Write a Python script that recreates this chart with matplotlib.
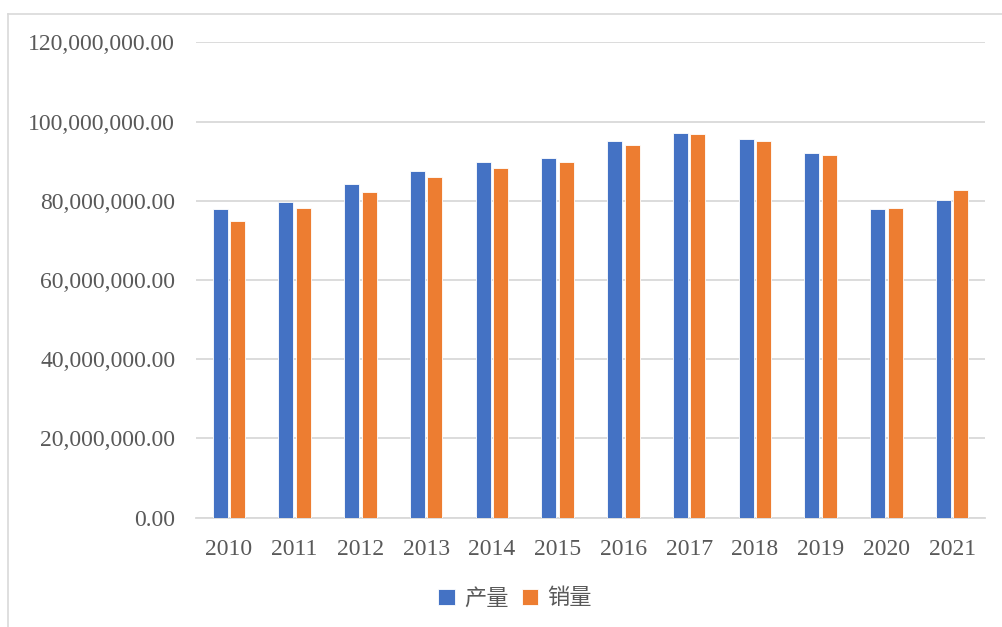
import matplotlib.pyplot as plt
from matplotlib.lines import Line2D
from matplotlib.ticker import FuncFormatter
import numpy as np

years = ['2010', '2011', '2012', '2013', '2014', '2015',
         '2016', '2017', '2018', '2019', '2020', '2021']
# 产量 / 销量
production = [77.9, 79.8, 84.3, 87.5, 89.9, 90.8, 95.2, 97.2, 95.6, 92.0, 77.9, 80.3]
sales = [74.9, 78.2, 82.2, 85.9, 88.3, 89.9, 94.0, 96.9, 95.2, 91.6, 78.3, 82.7]
production = [v * 1e6 for v in production]
sales = [v * 1e6 for v in sales]
series_names = ['产量', '销量']

blue = '#4472C4'
orange = '#ED7D31'
grid_c = '#D9D9D9'
text_c = '#595959'

plt.rcParams['font.family'] = ['Liberation Serif', 'Noto Sans CJK SC']

fig = plt.figure(figsize=(10.03, 6.27), dpi=100)
ax = fig.add_axes([196 / 1003, 1 - 517.7 / 627, (985 - 196) / 1003, (517.7 - 42.3) / 627])

x = np.arange(len(years))
w = 0.228
off = 0.133
ax.bar(x - off, production, w, color=blue, edgecolor='white', linewidth=0.6,
       label=series_names[0], zorder=3)
ax.bar(x + off, sales, w, color=orange, edgecolor='white', linewidth=0.6,
       label=series_names[1], zorder=3)

ax.set_xlim(-0.5, len(years) - 0.5)
ax.set_ylim(0, 120e6)
ax.set_yticks(np.arange(0, 120e6 + 1, 20e6))
ax.yaxis.set_major_formatter(FuncFormatter(lambda v, p: f'{v:,.2f}'))
ax.set_xticks(x)
ax.set_xticklabels(years)

ax.grid(axis='y', color=grid_c, linewidth=1.3, zorder=0)
for s in ['left', 'right', 'top']:
    ax.spines[s].set_visible(False)
ax.spines['bottom'].set_color(grid_c)
ax.spines['bottom'].set_linewidth(1.3)
ax.tick_params(axis='both', length=0, labelsize=17, labelcolor=text_c)
ax.tick_params(axis='y', pad=15)
ax.tick_params(axis='x', pad=15)

leg = ax.legend(loc='center', bbox_to_anchor=(515 / 1003, 1 - 598 / 627),
                bbox_transform=fig.transFigure, ncol=2, frameon=False,
                handlelength=0.75, handleheight=0.75, handletextpad=0.4,
                columnspacing=0.6, prop={'family': ['Noto Sans CJK SC'], 'size': 16})
for t in leg.get_texts():
    t.set_color(text_c)

# chart area border (top and left edges visible)
fig.add_artist(Line2D([8 / 1003, 1.0], [1 - 14 / 627, 1 - 14 / 627],
                      transform=fig.transFigure, color=grid_c, linewidth=1.2))
fig.add_artist(Line2D([8 / 1003, 8 / 1003], [0, 1 - 14 / 627],
                      transform=fig.transFigure, color=grid_c, linewidth=1.2))

fig.savefig('out.png', dpi=100, facecolor='white')
